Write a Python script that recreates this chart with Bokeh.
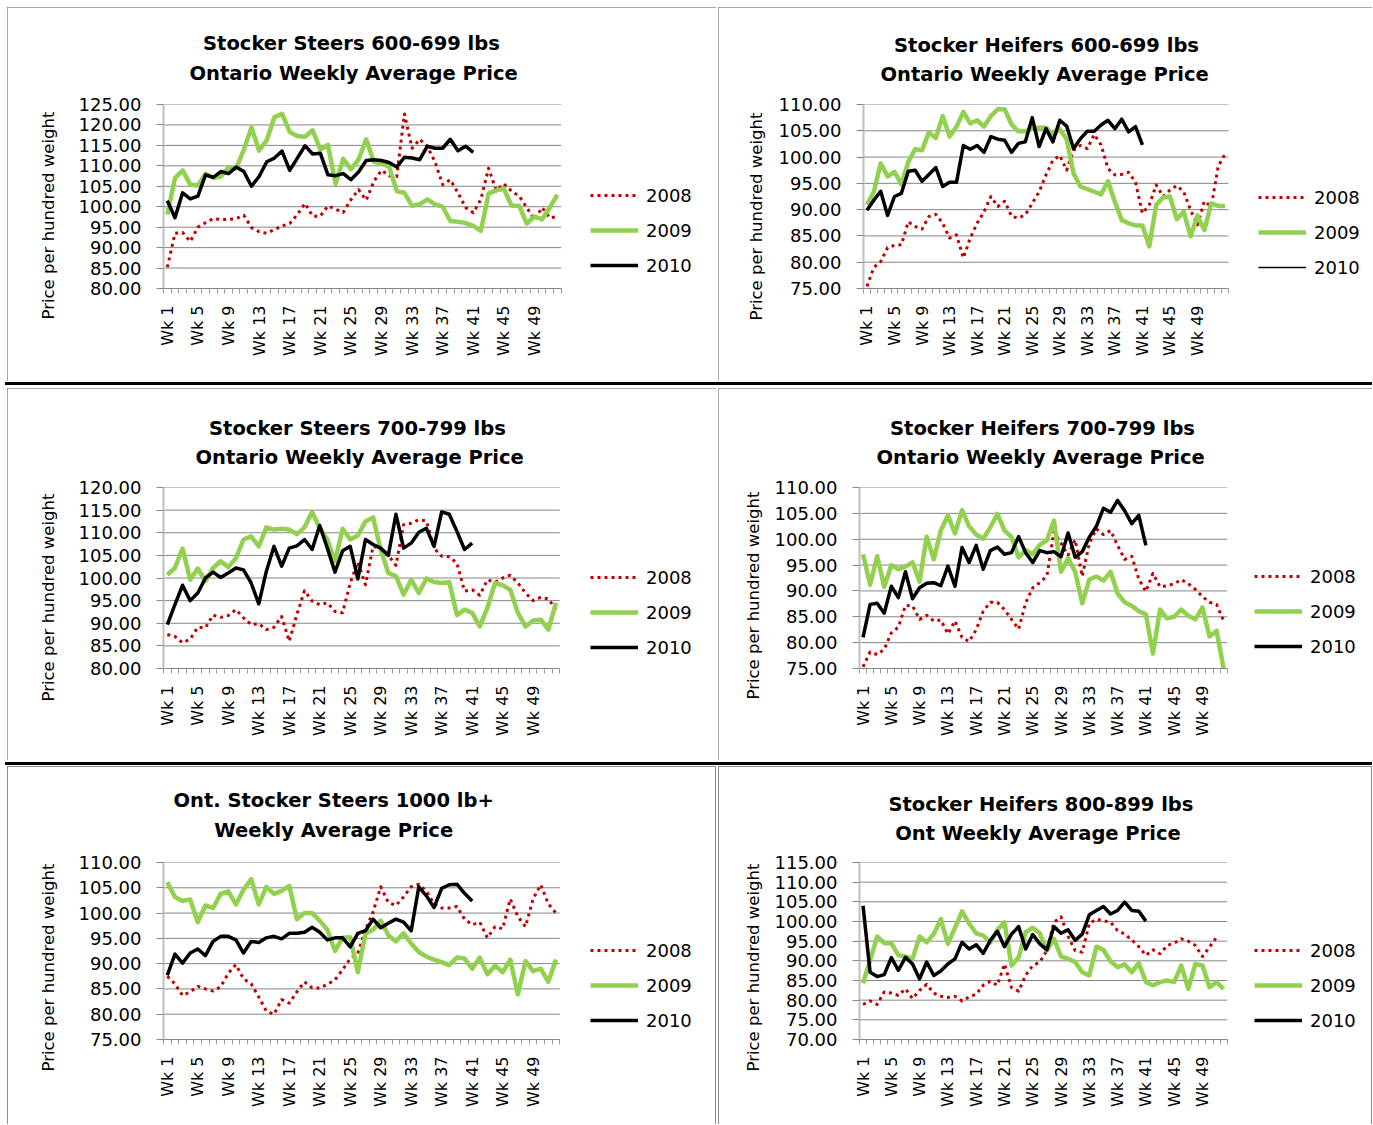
from math import pi
from bokeh.plotting import figure
from bokeh.layouts import row, column
from bokeh.models import (FixedTicker, PrintfTickFormatter, Legend, LegendItem,
                          Range1d, Title, Div)
from bokeh.embed import file_html
from bokeh.resources import INLINE

# ---------------- data ----------------
SERIES = ["2008", "2009", "2010"]
WEEK_LABEL_WEEKS = list(range(1, 50, 4))

steers600_2008 = [85.2, 93.5, 93.7, 91.5, 95.0, 96.1, 97.1, 96.9, 96.9, 97.1, 97.9, 94.9, 93.9, 93.5, 94.4, 95.3, 95.9, 98.1, 100.8, 97.7,
                  97.7, 100.2, 99.4, 98.6, 101.7, 104.2, 101.6, 106.2, 108.9, 107.6, 107.4, 122.7, 114.3, 116.5, 114.7, 111.0, 105.4, 106.6, 103.4, 99.8,
                  98.5, 101.8, 109.4, 104.0, 105.6, 103.8, 102.6, 99.8, 96.8, 99.8, 97.3, 97.6]
steers600_2009 = [98.1, 107.0, 108.9, 105.4, 105.2, 108.1, 107.0, 107.4, 109.6, 109.4, 113.9, 119.4, 113.7, 116.3, 121.9, 122.7, 118.3, 117.3, 117.1, 118.7,
                  114.0, 115.1, 105.6, 111.7, 109.2, 111.5, 116.5, 111.0, 110.6, 109.8, 103.8, 103.4, 100.2, 100.6, 101.8, 100.6, 100.0, 96.5, 96.3, 96.0,
                  95.3, 94.1, 103.2, 104.0, 104.4, 100.3, 100.2, 95.9, 97.6, 96.9, 99.8, 102.9]
steers600_2010 = [101.5, 97.3, 103.4, 101.9, 102.6, 107.8, 107.2, 108.6, 108.1, 109.7, 108.6, 105.0, 107.4, 111.0, 111.9, 113.6, 108.9, 111.9, 114.9, 112.9,
                  113.1, 107.8, 107.6, 108.1, 106.6, 108.5, 111.3, 111.5, 111.3, 110.8, 109.7, 112.1, 111.9, 111.5, 114.8, 114.3, 114.3, 116.5, 113.7, 114.8,
                  113.3]

heifers600_2008 = [75.4, 79.0, 80.1, 82.8, 83.2, 83.3, 87.7, 86.8, 86.3, 88.7, 89.1, 87.4, 84.6, 85.2, 80.8, 84.6, 87.4, 89.6, 92.5, 90.6,
                   91.6, 88.7, 88.4, 89.0, 91.2, 93.4, 96.6, 99.4, 100.3, 97.5, 101.3, 102.2, 101.6, 104.3, 102.3, 97.8, 96.6, 96.7, 97.1, 95.2,
                   89.3, 90.9, 94.7, 92.5, 93.7, 94.6, 93.4, 89.9, 87.1, 91.6, 90.6, 98.2, 100.6]
heifers600_2009 = [90.9, 93.4, 98.8, 96.3, 97.2, 94.8, 99.1, 101.5, 101.3, 104.7, 103.6, 107.8, 103.9, 105.8, 108.6, 106.4, 107.0, 105.8, 107.8, 109.1,
                   109.1, 106.2, 104.9, 104.9, 105.4, 105.6, 105.6, 104.3, 105.3, 103.4, 96.9, 94.4, 93.9, 93.4, 92.9, 95.4, 91.5, 88.0, 87.4, 87.0,
                   87.0, 83.0, 90.9, 92.3, 92.5, 88.2, 89.6, 84.9, 88.9, 86.1, 91.2, 90.7, 90.7]
heifers600_2010 = [89.9, 91.8, 93.5, 88.9, 92.5, 93.1, 97.3, 97.5, 95.4, 96.7, 98.0, 94.4, 95.2, 95.2, 102.2, 101.5, 102.2, 100.9, 103.9, 103.4,
                   103.2, 100.9, 102.6, 102.9, 107.5, 102.0, 105.4, 102.9, 107.0, 105.9, 101.6, 103.5, 104.9, 104.9, 106.1, 107.0, 105.4, 107.2, 104.8, 105.8,
                   102.3]

steers700_2008 = [87.5, 87.1, 85.7, 86.5, 89.1, 89.0, 91.8, 91.3, 91.7, 93.0, 91.2, 89.7, 89.9, 88.6, 89.1, 91.5, 86.0, 91.9, 97.2, 94.9,
                  94.1, 94.5, 92.6, 92.3, 98.9, 103.5, 98.5, 107.0, 106.6, 105.0, 102.8, 111.8, 112.1, 112.9, 112.6, 106.6, 104.8, 104.7, 103.3, 97.1,
                  97.4, 96.2, 99.6, 99.1, 100.0, 100.6, 98.9, 96.7, 95.0, 95.7, 95.4, 93.0]
steers700_2009 = [100.7, 102.2, 106.5, 99.6, 102.1, 99.3, 102.2, 103.7, 102.4, 104.4, 108.5, 109.2, 107.0, 111.2, 110.7, 110.9, 110.7, 109.7, 111.2, 114.6,
                  111.0, 108.5, 103.7, 110.9, 108.5, 109.4, 112.5, 113.4, 106.3, 101.1, 100.4, 96.3, 99.6, 96.7, 99.9, 99.1, 98.9, 99.1, 91.8, 93.0,
                  92.3, 89.3, 93.4, 98.9, 98.4, 97.4, 92.3, 89.3, 90.6, 90.8, 88.6, 94.5]
steers700_2010 = [89.7, 94.1, 98.4, 95.0, 96.7, 100.0, 101.3, 100.1, 101.1, 102.2, 101.8, 98.9, 94.3, 101.5, 107.0, 102.6, 106.6, 107.1, 108.5, 106.3,
                  111.6, 106.6, 101.3, 106.0, 107.0, 99.8, 108.5, 107.4, 106.6, 105.0, 114.1, 106.6, 107.7, 110.1, 111.0, 107.0, 114.6, 114.1, 110.3, 106.3,
                  107.7]

heifers700_2008 = [75.3, 78.2, 77.7, 78.7, 81.9, 83.0, 87.2, 87.1, 84.5, 85.3, 84.2, 84.4, 81.7, 84.2, 81.0, 80.2, 82.5, 86.1, 87.8, 87.8,
                   86.4, 84.5, 82.6, 87.7, 90.6, 91.6, 92.9, 101.4, 99.2, 96.9, 99.9, 92.8, 99.2, 102.0, 100.9, 101.7, 98.8, 96.1, 96.7, 92.3,
                   89.9, 93.4, 90.8, 91.0, 91.4, 92.2, 91.4, 90.3, 88.9, 87.8, 87.4, 84.2]
heifers700_2009 = [97.1, 91.2, 96.7, 90.8, 95.0, 94.2, 94.7, 95.5, 91.8, 100.5, 96.1, 101.7, 104.6, 101.1, 105.6, 102.5, 100.9, 100.1, 102.3, 104.9,
                   101.7, 100.4, 96.5, 97.9, 97.1, 98.9, 99.8, 103.6, 93.7, 96.3, 93.7, 87.6, 92.2, 92.8, 92.0, 93.7, 89.5, 87.8, 87.1, 86.1,
                   85.5, 77.9, 86.4, 84.7, 85.0, 86.4, 85.2, 84.5, 86.8, 81.2, 82.3, 74.9]
heifers700_2010 = [81.0, 87.4, 87.6, 85.7, 90.9, 88.7, 93.7, 88.5, 90.6, 91.5, 91.6, 91.0, 94.8, 90.9, 98.4, 95.5, 98.8, 94.2, 97.8, 98.5,
                   97.1, 97.4, 100.5, 97.4, 95.5, 97.8, 97.4, 97.6, 96.6, 101.2, 96.5, 97.6, 100.4, 102.5, 106.0, 105.2, 107.5, 105.5, 103.0, 104.6,
                   98.8]

steers1000_2008 = [87.5, 86.0, 83.7, 84.4, 85.5, 85.0, 84.6, 85.4, 88.1, 89.8, 87.0, 86.0, 83.4, 80.6, 80.0, 82.9, 82.2, 84.4, 86.4, 85.2,
                   85.2, 85.9, 86.8, 88.8, 91.0, 92.0, 96.7, 100.2, 105.2, 102.1, 101.5, 103.2, 105.2, 105.7, 104.3, 101.8, 101.0, 101.0, 101.3, 98.8,
                   97.7, 98.2, 95.1, 97.3, 96.9, 102.8, 99.3, 97.3, 102.8, 105.6, 101.8, 100.0]
steers1000_2009 = [106.1, 103.2, 102.4, 102.7, 98.2, 101.5, 101.0, 103.8, 104.3, 101.7, 104.6, 106.7, 101.7, 105.2, 103.8, 104.4, 105.4, 98.8, 100.0, 100.0,
                   98.5, 96.7, 92.5, 95.1, 95.2, 88.3, 95.9, 96.7, 98.5, 95.6, 94.4, 96.0, 94.0, 92.3, 91.4, 90.8, 90.3, 89.7, 91.2, 91.0,
                   89.0, 91.2, 87.9, 89.6, 88.3, 90.8, 83.9, 90.5, 88.5, 89.0, 86.4, 90.8]
steers1000_2010 = [87.7, 91.9, 90.1, 92.1, 92.9, 91.6, 94.4, 95.4, 95.4, 94.7, 92.1, 94.4, 94.2, 95.1, 95.4, 94.9, 96.0, 96.0, 96.2, 97.2,
                   96.2, 94.7, 95.1, 95.1, 93.3, 96.0, 96.5, 98.8, 97.1, 98.0, 98.8, 98.2, 96.5, 105.2, 103.4, 101.1, 104.9, 105.6, 105.7, 103.9,
                   102.4]

heifers800_2008 = [78.9, 79.8, 78.9, 82.1, 81.8, 81.2, 82.9, 80.4, 82.5, 84.0, 81.8, 81.0, 80.7, 81.0, 79.8, 80.8, 81.5, 83.8, 84.8, 83.8,
                   89.2, 83.2, 82.3, 86.3, 88.8, 89.7, 92.6, 99.8, 101.2, 96.2, 92.6, 92.2, 99.5, 100.6, 100.2, 99.8, 97.7, 96.8, 95.3, 93.6,
                   91.4, 92.8, 91.8, 93.9, 94.5, 95.6, 95.0, 93.9, 91.1, 93.5, 96.0]
heifers800_2009 = [84.3, 90.1, 96.2, 94.5, 94.5, 91.4, 91.1, 90.5, 96.2, 94.7, 96.8, 100.6, 94.3, 98.4, 102.6, 99.5, 97.0, 96.4, 94.7, 97.9,
                   99.8, 88.8, 90.9, 97.3, 98.4, 97.0, 92.6, 95.6, 91.1, 90.5, 89.7, 87.1, 86.3, 93.6, 92.8, 89.9, 88.4, 89.1, 87.1, 89.4,
                   84.6, 83.8, 84.6, 85.0, 84.6, 88.8, 82.9, 89.2, 88.8, 83.3, 84.6, 82.9]
heifers800_2010 = [104.0, 87.1, 86.0, 86.5, 90.8, 87.6, 90.9, 89.2, 85.4, 89.7, 86.3, 87.4, 89.2, 90.5, 94.7, 93.0, 94.1, 91.9, 95.2, 97.5,
                   93.6, 96.8, 98.7, 93.0, 96.7, 94.3, 92.8, 98.7, 97.0, 97.9, 95.2, 96.8, 101.7, 102.8, 103.8, 101.9, 102.8, 104.9, 102.8, 102.6,
                   100.1]

# ---------------- styling ----------------
FONT = "DejaVu Sans"
RED, GREEN, BLACK = "#c00000", "#92d050", "#000000"
GRID = "#868686"
Y_LABEL = "Price per hundred weight"
NB = "\u00a0"  # non-breaking space used to centre the shorter title line
OUTLINE = {"outline": "1px solid #8c8c8c", "outline-offset": "-1px"}
OUTLINE_OPEN_BOTTOM = {"box-shadow": "inset 1px 1px 0 #8c8c8c, inset -1px 0 0 #8c8c8c"}


def make_panel(W, H, margin, title, title_offset, title_standoff, data, n_cat, yr,
               frame, data_right, ylab_offset, ylab_standoff, leg_xy,
               thin_2010=False, last_row=False):
    fl, ft, fb = frame
    fr = W - 2
    pxw = (data_right - fl) / n_cat
    x_end = 0.5 + (fr - fl) / pxw
    p = figure(width=W, height=H, margin=margin, x_range=Range1d(0.5, x_end),
               y_range=Range1d(*yr), output_backend="svg", toolbar_location=None,
               title=None,
               min_border_left=fl, min_border_right=W - fr,
               min_border_top=ft, min_border_bottom=H - fb)
    p.outline_line_color = None
    if last_row:
        p.background_fill_alpha = 0
        p.border_fill_alpha = 0
        p.styles = OUTLINE_OPEN_BOTTOM
    else:
        p.background_fill_color = "white"
        p.border_fill_color = "white"
        p.styles = OUTLINE
    p.xgrid.visible = False
    p.ygrid.visible = False

    p.add_layout(Title(text=title, align="left", vertical_align="top",
                       offset=title_offset, standoff=title_standoff,
                       text_font=FONT, text_font_style="bold",
                       text_font_size="19.5px", text_line_height=1.3,
                       text_color="black"), "above")

    xa = p.xaxis[0]
    xa.bounds = (0.5, n_cat + 0.5)
    xa.ticker = FixedTicker(ticks=WEEK_LABEL_WEEKS,
                            minor_ticks=[i + 0.5 for i in range(0, n_cat + 1)])
    xa.major_label_overrides = {w: f"Wk {w}" for w in WEEK_LABEL_WEEKS}
    xa.major_label_orientation = pi / 2
    xa.major_tick_line_color = None
    xa.major_tick_out = 0
    xa.major_tick_in = 0
    xa.minor_tick_line_color = "#9a9a9a"
    xa.minor_tick_out = 5
    xa.minor_tick_in = 0
    xa.axis_line_color = GRID
    xa.major_label_standoff = 12
    xa.major_label_text_font = FONT
    xa.major_label_text_font_size = "16px"
    xa.major_label_text_color = "black"

    yticks = list(range(yr[0], yr[1] + 1, 5))
    ya = p.yaxis[0]
    ya.ticker = FixedTicker(ticks=yticks)
    ya.formatter = PrintfTickFormatter(format="%.2f")
    ya.major_tick_out = 7
    ya.major_tick_in = 0
    ya.major_tick_line_color = GRID
    ya.minor_tick_line_color = None
    ya.axis_line_color = "#bfbfbf"
    ya.axis_line_width = 2
    ya.major_label_standoff = 15
    ya.major_label_text_font = FONT
    ya.major_label_text_font_size = "18px"
    ya.major_label_text_color = "black"

    p.add_layout(Title(text=Y_LABEL, align="left", offset=ylab_offset,
                       standoff=ylab_standoff, text_font=FONT, text_font_style="normal",
                       text_font_size="16.5px", text_color="black"), "left")

    # horizontal gridlines across the category area only
    p.segment(x0=[0.5] * len(yticks), x1=[n_cat + 0.5] * len(yticks),
              y0=yticks, y1=yticks, line_color=GRID, line_width=1)

    d08, d09, d10 = data
    r08 = p.line(list(range(1, len(d08) + 1)), d08, line_color=RED, line_width=3,
                 line_dash="3 4", line_join="round")
    r09 = p.line(list(range(1, len(d09) + 1)), d09, line_color=GREEN, line_width=4.5,
                 line_join="round")
    r10 = p.line(list(range(1, len(d10) + 1)), d10, line_color=BLACK, line_width=3.5,
                 line_join="round")
    leg10 = r10
    if thin_2010:
        # legend proxy (thin key line, placed outside the visible x range)
        leg10 = p.line([n_cat + 60, n_cat + 61], [yr[0], yr[0]], line_color=BLACK,
                       line_width=1.5)

    items = [LegendItem(label=lab, renderers=[r]) for lab, r in zip(SERIES, [r08, r09, leg10])]
    leg = Legend(items=items, location=leg_xy,
                 glyph_width=48, glyph_height=22, label_height=22,
                 label_standoff=8, padding=0, margin=0, spacing=13,
                 border_line_color=None, background_fill_alpha=0,
                 label_text_font=FONT, label_text_font_size="18px",
                 label_text_color="black")
    p.add_layout(leg)
    return p


p1 = make_panel(709, 374, (7, 0, 0, 7),
                NB * 2 + "Stocker Steers 600-699 lbs\nOntario Weekly Average Price", 26, 35,
                (steers600_2008, steers600_2009, steers600_2010), 52, (80, 125),
                (156, 95, 282), 553.7, -31, 35, (427, 12))
p2 = make_panel(654, 374, (7, 0, 0, 2),
                NB * 2 + "Stocker Heifers 600-699 lbs\nOntario Weekly Average Price", 17, 32,
                (heifers600_2008, heifers600_2009, heifers600_2010), 53, (75, 110),
                (145, 97, 281), 510, -32, 19, (395, 10), thin_2010=True)
p3 = make_panel(709, 372, (0, 0, 0, 7),
                NB * 2 + "Stocker Steers 700-799 lbs\nOntario Weekly Average Price", 32, 32,
                (steers700_2008, steers700_2009, steers700_2010), 52, (80, 120),
                (156, 99, 281), 552.3, -33, 35, (427, 10))
p4 = make_panel(654, 372, (0, 0, 0, 2),
                NB * 2 + "Stocker Heifers 700-799 lbs\nOntario Weekly Average Price", 17, 32,
                (heifers700_2008, heifers700_2009, heifers700_2010), 52, (75, 110),
                (141, 97, 280), 508.7, -31, 17, (395, 11))
p5 = make_panel(709, 358, (0, 0, 0, 7),
                "Ont. Stocker Steers 1000 lb+\n" + NB * 6 + "Weekly Average Price", 10, 37,
                (steers1000_2008, steers1000_2009, steers1000_2010), 52, (75, 110),
                (156, 96, 273), 552.3, -32, 35, (427, 8), last_row=True)
p6 = make_panel(654, 358, (0, 0, 0, 2),
                "Stocker Heifers 800-899 lbs\n" + NB + "Ont Weekly Average Price", 29, 30,
                (heifers800_2008, heifers800_2009, heifers800_2010), 52, (70, 115),
                (141, 96, 273), 508.7, -32, 17, (395, 8), last_row=True)


def band(top, bottom):
    return Div(text="", width=1367, height=3, margin=(top, 0, bottom, 5),
               styles={"background-color": "black"})


layout = column(row(p1, p2, spacing=0), band(1, 3), row(p3, p4, spacing=0), band(2, 1),
                row(p5, p6, spacing=0), spacing=0)

with open("out.html", "w") as f:
    f.write(file_html(layout, INLINE, title="Ontario stocker prices"))
